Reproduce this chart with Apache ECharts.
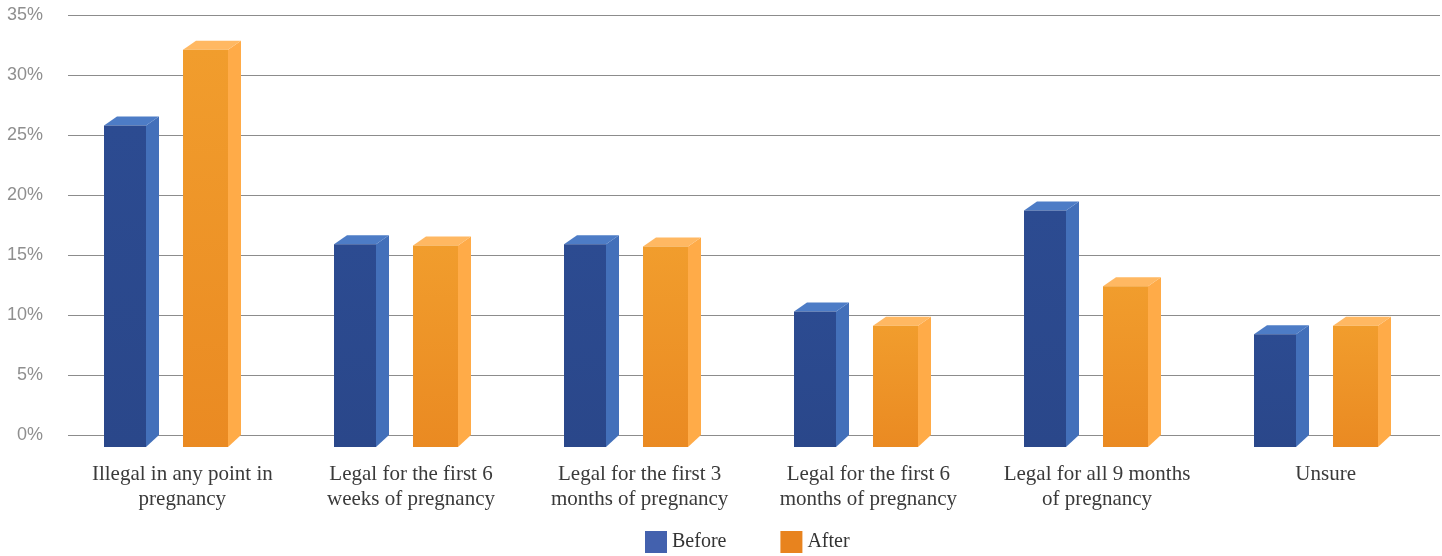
<!DOCTYPE html>
<html>
<head>
<meta charset="utf-8">
<style>
  html, body { margin: 0; padding: 0; background: #ffffff; }
  #chart { width: 1442px; height: 556px; }
</style>
<script src="https://cdn.jsdelivr.net/npm/echarts@6/dist/echarts.min.js"></script>
</head>
<body>
<div id="chart"></div>
<script>
// Category names (line breaks are where the axis labels wrap)
const categories = [
  'Illegal in any point in\npregnancy',
  'Legal for the first 6\nweeks of pregnancy',
  'Legal for the first 3\nmonths of pregnancy',
  'Legal for the first 6\nmonths of pregnancy',
  'Legal for all 9 months\nof pregnancy',
  'Unsure'
];
// Share of respondents (%)
const beforeValues = [26.8, 16.9, 16.9, 11.3, 19.7, 9.4];
const afterValues  = [33.1, 16.8, 16.7, 10.1, 13.4, 10.1];
const seriesNames = ['Before', 'After'];

// Axis settings
const yMin = 0, yMax = 35, yStep = 5;

// 3D box look: depth shift of the front face relative to the back plane
const DEPTH_X = 13, DEPTH_Y_BOTTOM = 12, DEPTH_Y_TOP = 9;

// Back-face horizontal extent relative to the category centre, per series
const backExtent = [[-60, -18], [19, 64]];

const palettes = [
  { front: ['#2c4b91', '#2a478a'], side: '#4370ba', top: '#4d7cc6', legend: '#4361ae' },
  { front: ['#f19d2d', '#ea8a22'], side: '#ffab48', top: '#ffb862', legend: '#e8831e' }
];

function makeRender(si) {
  const pal = palettes[si];
  return function (params, api) {
    const idx = api.value(0);
    const v = api.value(1);
    const base = api.coord([idx, 0]);
    const top = api.coord([idx, v]);
    const cx = base[0];
    const backBottom = base[1];
    const x0 = cx + backExtent[si][0] - DEPTH_X;
    const x1 = cx + backExtent[si][1] - DEPTH_X;
    const frontBottom = backBottom + DEPTH_Y_BOTTOM;
    const frontTop = top[1] + DEPTH_Y_BOTTOM;
    const backTop = frontTop - DEPTH_Y_TOP;
    return {
      type: 'group',
      children: [
        {
          type: 'polygon',
          shape: { points: [[x1, frontTop], [x1 + DEPTH_X, backTop], [x1 + DEPTH_X, backBottom], [x1, frontBottom]] },
          style: { fill: pal.side }
        },
        {
          type: 'polygon',
          shape: { points: [[x0, frontTop], [x0 + DEPTH_X, backTop], [x1 + DEPTH_X, backTop], [x1, frontTop]] },
          style: { fill: pal.top }
        },
        {
          type: 'rect',
          shape: { x: x0, y: frontTop, width: x1 - x0, height: frontBottom - frontTop },
          style: {
            fill: new echarts.graphic.LinearGradient(0, 0, 0, 1, [
              { offset: 0, color: pal.front[0] },
              { offset: 1, color: pal.front[1] }
            ])
          }
        }
      ]
    };
  };
}

const chart = echarts.init(document.getElementById('chart'), null, { renderer: 'canvas' });

const seriesData = [beforeValues, afterValues];
const serifFont = 'Liberation Serif, DejaVu Serif, serif';

chart.setOption({
  animation: false,
  backgroundColor: '#ffffff',
  grid: [
    // back wall: gridlines and axis labels
    { left: 68, right: 2, top: 15, bottom: 121, containLabel: false },
    // box placement (slightly wider spread, as seen in perspective)
    { left: 62, width: 1383, top: 15, bottom: 121, containLabel: false }
  ],
  legend: {
    data: seriesNames,
    left: 640,
    top: 526,
    itemWidth: 22,
    itemHeight: 22,
    itemGap: 54,
    icon: 'rect',
    textStyle: { fontFamily: serifFont, fontSize: 20, color: '#333333', padding: [6, 0, 0, 0] }
  },
  xAxis: [
    {
      type: 'category',
      gridIndex: 0,
      data: categories,
      axisLine: { show: false },
      axisTick: { show: false },
      axisLabel: {
        interval: 0,
        margin: 27,
        fontFamily: serifFont,
        fontSize: 21,
        lineHeight: 25,
        color: '#3a3a3a',
        align: 'center'
      }
    },
    {
      type: 'category',
      gridIndex: 1,
      data: categories,
      show: false
    }
  ],
  yAxis: [
    {
      type: 'value',
      gridIndex: 0,
      min: yMin,
      max: yMax,
      interval: yStep,
      axisLine: { show: false },
      axisTick: { show: false },
      axisLabel: {
        formatter: '{value}%',
        margin: 25,
        fontFamily: 'Liberation Sans, Arial, sans-serif',
        fontSize: 18,
        color: '#8f8f8f',
        lineHeight: 22,
        padding: [4, 0, 0, 0]
      },
      splitLine: { lineStyle: { color: '#8c8c8c', width: 1 } }
    },
    {
      type: 'value',
      gridIndex: 1,
      min: yMin,
      max: yMax,
      interval: yStep,
      show: false,
      splitLine: { show: false }
    }
  ],
  series: seriesNames.map((name, si) => ({
    name: name,
    type: 'custom',
    xAxisIndex: 1,
    yAxisIndex: 1,
    clip: false,
    itemStyle: { color: palettes[si].legend },
    renderItem: makeRender(si),
    encode: { x: 0, y: 1 },
    data: seriesData[si].map((v, i) => [i, v])
  }))
});
</script>
</body>
</html>
